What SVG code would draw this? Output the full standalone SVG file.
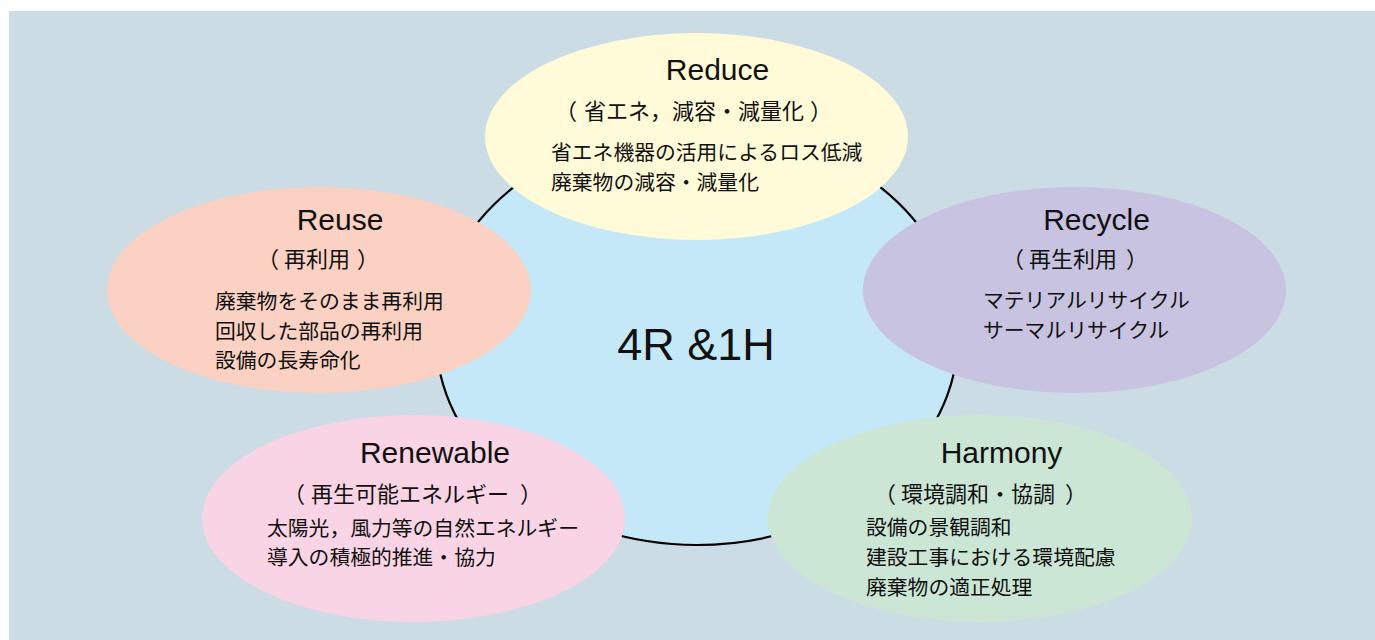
<svg xmlns="http://www.w3.org/2000/svg" width="1375" height="640" viewBox="0 0 1375 640">
<style>
.title{font-family:"Liberation Sans",Arial,sans-serif;font-size:30px;fill:#111;text-anchor:middle}
.sub{font-family:"Noto Sans CJK JP","Noto Sans CJK SC",sans-serif;font-size:22px;fill:#111}
.body{font-family:"Noto Sans CJK JP","Noto Sans CJK SC",sans-serif;font-size:20.8px;fill:#111}
.center{font-family:"Liberation Sans",Arial,sans-serif;font-size:45px;fill:#111;text-anchor:middle}
</style>
<rect x="0" y="0" width="1375" height="640" fill="#ffffff"/>
<rect x="9" y="11" width="1366" height="629" fill="#CCDCE4"/>
<g id="core">
<ellipse cx="697" cy="336" rx="261" ry="209" fill="#C5E8F8" stroke="#000" stroke-width="2.2"/>
<text class="center" x="696" y="360">4R &amp;1H</text>
</g>
<g id="reduce">
<ellipse cx="696.5" cy="136.5" rx="211.5" ry="103.5" fill="#FFFAD7"/>
<text class="title" x="717.5" y="80">Reduce</text>
<text class="sub" y="118.5"><tspan x="555">（</tspan><tspan x="584">省エネ，減容・減量化</tspan><tspan x="810">）</tspan></text>
<text class="body" x="551" y="159.5">省エネ機器の活用によるロス低減</text>
<text class="body" x="551" y="189.5">廃棄物の減容・減量化</text>
</g>
<g id="recycle">
<ellipse cx="1074.5" cy="290" rx="211.5" ry="103" fill="#C7C3E0"/>
<text class="title" x="1096.5" y="230">Recycle</text>
<text class="sub" y="266.5"><tspan x="1002">（</tspan><tspan x="1029">再生利用</tspan><tspan x="1126">）</tspan></text>
<text class="body" x="983" y="307.5">マテリアルリサイクル</text>
<text class="body" x="983" y="337.5">サーマルリサイクル</text>
</g>
<g id="reuse">
<ellipse cx="319" cy="290" rx="212" ry="103" fill="#FAD1C2"/>
<text class="title" x="340" y="230">Reuse</text>
<text class="sub" y="267"><tspan x="257">（</tspan><tspan x="284">再利用</tspan><tspan x="357">）</tspan></text>
<text class="body" x="215" y="308.5">廃棄物をそのまま再利用</text>
<text class="body" x="215" y="338.5">回収した部品の再利用</text>
<text class="body" x="215" y="367.5">設備の長寿命化</text>
</g>
<g id="renewable">
<ellipse cx="413.5" cy="518.5" rx="211.5" ry="103.5" fill="#F9D4E4"/>
<text class="title" x="435" y="463">Renewable</text>
<text class="sub" y="501.5"><tspan x="283">（</tspan><tspan x="311">再生可能エネルギー</tspan><tspan x="520">）</tspan></text>
<text class="body" x="267" y="535.5">太陽光，風力等の自然エネルギー</text>
<text class="body" x="267" y="564.5">導入の積極的推進・協力</text>
</g>
<g id="harmony">
<ellipse cx="980" cy="518.5" rx="212" ry="103.5" fill="#CCE6D6"/>
<text class="title" x="1001.5" y="463">Harmony</text>
<text class="sub" y="501.5"><tspan x="874">（</tspan><tspan x="901">環境調和・協調</tspan><tspan x="1065">）</tspan></text>
<text class="body" x="866" y="535">設備の景観調和</text>
<text class="body" x="866" y="564.5">建設工事における環境配慮</text>
<text class="body" x="866" y="595">廃棄物の適正処理</text>
</g>
<g id="connectors"></g>
</svg>
